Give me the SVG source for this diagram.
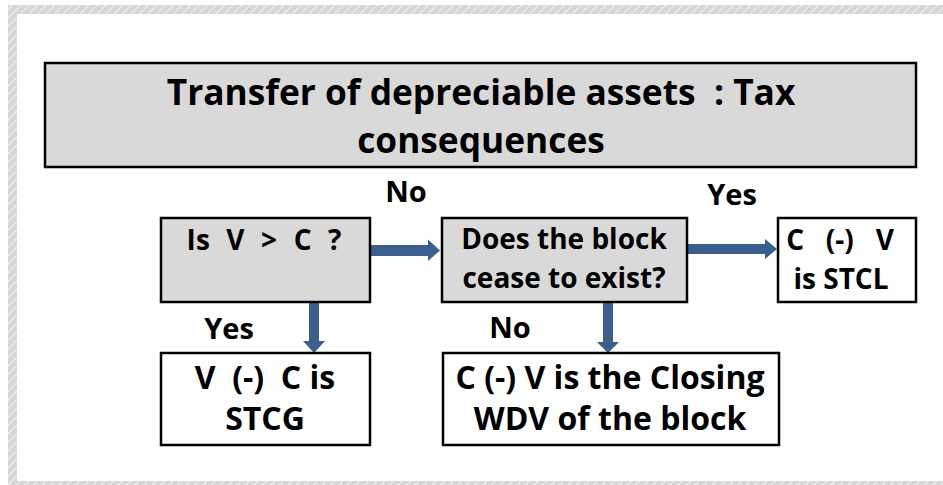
<svg xmlns="http://www.w3.org/2000/svg" width="943" height="485" viewBox="0 0 943 485">
<defs>
<pattern id="hatch" width="6" height="6" patternUnits="userSpaceOnUse" patternTransform="rotate(45)">
<rect width="6" height="6" fill="#d6d6d6"/>
<line x1="0" y1="0" x2="0" y2="6" stroke="#f2f2f2" stroke-width="2"/>
</pattern>
<style>
.box{stroke:#000;stroke-width:2.5}
.grey{fill:#d9d9d9}
.white{fill:#fff}
text{font-family:"Open Sans","Liberation Sans",sans-serif;font-weight:700;fill:#000;text-anchor:middle;white-space:pre}
.t{font-size:35.3px}
.b{font-size:28px}
.c{font-size:32px}
.l{font-size:29px}
.arr{fill:#3A5F8F}
</style>
</defs>
<rect width="943" height="485" fill="#fff"/>
<g id="frame">
<rect x="8" y="5" width="935" height="9" fill="url(#hatch)"/>
<rect x="8" y="5" width="9" height="480" fill="url(#hatch)"/>
<rect x="8" y="481" width="935" height="4" fill="url(#hatch)"/>
</g>
<g id="title">
<rect class="box grey" x="45" y="63" width="871" height="104"/>
<text class="t" x="481" y="105">Transfer of depreciable assets  : Tax</text>
<text class="t" x="481" y="153">consequences</text>
</g>
<g id="connectors">
<polygon class="arr" points="370,245 428,245 428,239.5 440,250.5 428,261 428,256 370,256"/>
<polygon class="arr" points="687,244 765,244 765,239 777,249 765,259 765,254 687,254"/>
<polygon class="arr" points="309,303 319,303 319,341 325,341 314,353 303,341 309,341"/>
<polygon class="arr" points="603,303 613,303 613,342 619,342 608,353 597,342 603,342"/>
</g>
<g id="labels">
<text class="l" x="406" y="202">No</text>
<text class="l" x="732" y="205">Yes</text>
<text class="l" x="229" y="339">Yes</text>
<text class="l" x="510" y="338">No</text>
</g>
<g id="q1">
<rect class="box grey" x="161" y="218" width="209" height="84"/>
<text class="b" x="264" y="250" word-spacing="1">Is  V  &gt;  C  ?</text>
</g>
<g id="q2">
<rect class="box grey" x="442" y="218" width="245" height="84"/>
<text class="b" x="564" y="249">Does the block</text>
<text class="b" x="564" y="288">cease to exist?</text>
</g>
<g id="stcl">
<rect class="box white" x="778" y="218" width="138" height="84"/>
<text class="b" x="840" y="250">C   (-)   V</text>
<text class="b" x="841" y="289">is STCL</text>
</g>
<g id="stcg">
<rect class="box white" x="161" y="353" width="209" height="92"/>
<text class="c" x="265" y="389">V  (-)  C is</text>
<text class="c" x="265" y="430">STCG</text>
</g>
<g id="wdv">
<rect class="box white" x="443" y="353" width="336" height="92"/>
<text class="c" x="610" y="389">C (-) V is the Closing</text>
<text class="c" x="610" y="430">WDV of the block</text>
</g>
</svg>
